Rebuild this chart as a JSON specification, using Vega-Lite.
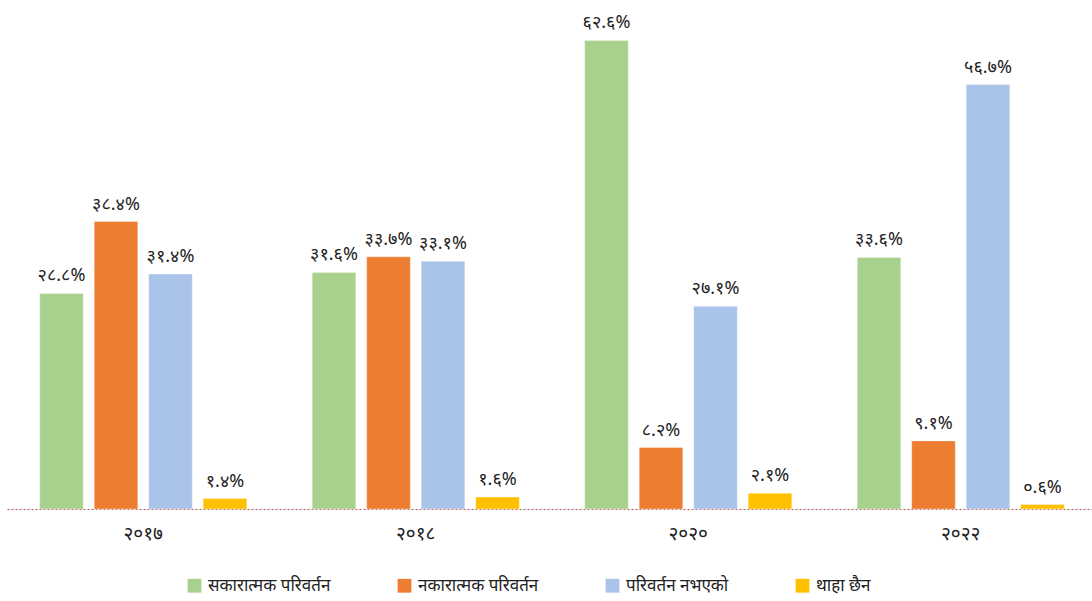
{
  "$schema": "https://vega.github.io/schema/vega-lite/v6.json",
  "autosize": {"type": "none"},
  "padding": {"left": 7, "top": 0, "right": 0, "bottom": 92},
  "width": 1090,
  "height": 509,
  "background": "white",
  "config": {
    "view": {"stroke": null},
    "font": "Noto Sans"
  },
  "data": {
    "values": [
      {"year": "२०१७", "cat": "सकारात्मक परिवर्तन", "value": 28.8, "label": "२८.८%"},
      {"year": "२०१७", "cat": "नकारात्मक परिवर्तन", "value": 38.4, "label": "३८.४%"},
      {"year": "२०१७", "cat": "परिवर्तन नभएको", "value": 31.4, "label": "३१.४%"},
      {"year": "२०१७", "cat": "थाहा छैन", "value": 1.4, "label": "१.४%"},
      {"year": "२०१८", "cat": "सकारात्मक परिवर्तन", "value": 31.6, "label": "३१.६%"},
      {"year": "२०१८", "cat": "नकारात्मक परिवर्तन", "value": 33.7, "label": "३३.७%"},
      {"year": "२०१८", "cat": "परिवर्तन नभएको", "value": 33.1, "label": "३३.१%"},
      {"year": "२०१८", "cat": "थाहा छैन", "value": 1.6, "label": "१.६%"},
      {"year": "२०२०", "cat": "सकारात्मक परिवर्तन", "value": 62.6, "label": "६२.६%"},
      {"year": "२०२०", "cat": "नकारात्मक परिवर्तन", "value": 8.2, "label": "८.२%"},
      {"year": "२०२०", "cat": "परिवर्तन नभएको", "value": 27.1, "label": "२७.१%"},
      {"year": "२०२०", "cat": "थाहा छैन", "value": 2.1, "label": "२.१%"},
      {"year": "२०२२", "cat": "सकारात्मक परिवर्तन", "value": 33.6, "label": "३३.६%"},
      {"year": "२०२२", "cat": "नकारात्मक परिवर्तन", "value": 9.1, "label": "९.१%"},
      {"year": "२०२२", "cat": "परिवर्तन नभएको", "value": 56.7, "label": "५६.७%"},
      {"year": "२०२२", "cat": "थाहा छैन", "value": 0.6, "label": "०.६%"}
    ]
  },
  "encoding": {
    "x": {
      "field": "year",
      "type": "nominal",
      "sort": null,
      "title": null,
      "scale": {"paddingInner": 0.24, "paddingOuter": 0.12},
      "axis": {
        "labelAngle": 0,
        "labelFontSize": 19,
        "labelColor": "#222222",
        "labelPadding": 15,
        "ticks": false,
        "domainColor": "#b05555",
        "domainDash": [2, 2],
        "domainWidth": 1
      }
    },
    "xOffset": {
      "field": "cat",
      "type": "nominal",
      "sort": ["सकारात्मक परिवर्तन", "नकारात्मक परिवर्तन", "परिवर्तन नभएको", "थाहा छैन"],
      "scale": {"paddingInner": 0.2, "paddingOuter": 0}
    },
    "y": {
      "field": "value",
      "type": "quantitative",
      "scale": {"domain": [0, 68]},
      "axis": null
    }
  },
  "layer": [
    {
      "mark": {"type": "bar", "stroke": "white", "strokeWidth": 0.6, "strokeOpacity": 0.6},
      "encoding": {
        "color": {
          "field": "cat",
          "type": "nominal",
          "sort": ["सकारात्मक परिवर्तन", "नकारात्मक परिवर्तन", "परिवर्तन नभएको", "थाहा छैन"],
          "scale": {
            "domain": ["सकारात्मक परिवर्तन", "नकारात्मक परिवर्तन", "परिवर्तन नभएको", "थाहा छैन"],
            "range": ["#a9d18e", "#ed7d31", "#a9c4e8", "#ffc000"]
          },
          "legend": {
            "title": null,
            "orient": "none",
            "legendX": 179,
            "legendY": 577,
            "direction": "horizontal",
            "symbolType": "square",
            "symbolSize": 190,
            "symbolStrokeWidth": 0,
            "labelFontSize": 17,
            "labelColor": "#222222",
            "labelOffset": 5,
            "columnPadding": 65
          }
        }
      }
    },
    {
      "mark": {"type": "text", "baseline": "bottom", "dy": -8, "fontSize": 18, "color": "#222222"},
      "encoding": {
        "text": {"field": "label"}
      }
    }
  ]
}
